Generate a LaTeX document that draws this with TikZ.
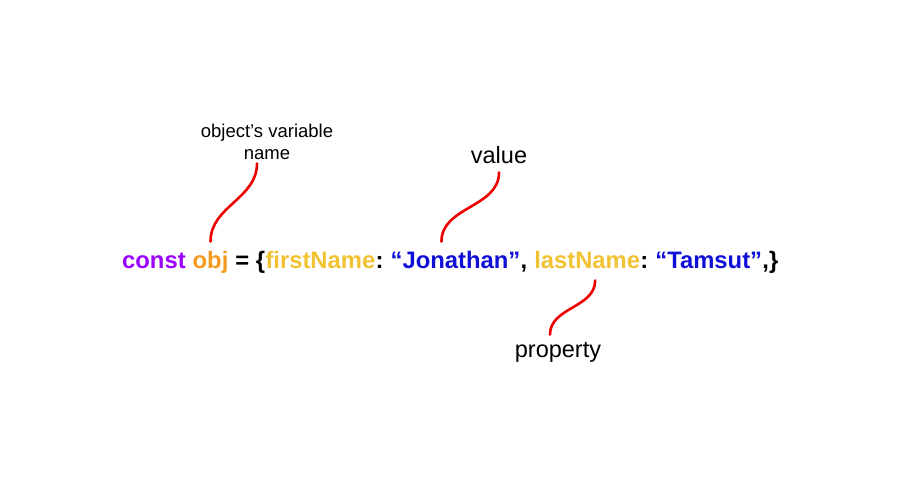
\documentclass[tikz,border=0pt]{standalone}
\usepackage{fontspec}
\setmainfont{Liberation Sans}
\usepackage{xcolor}
\usetikzlibrary{positioning}
\definecolor{kwpurple}{HTML}{9900FF}
\definecolor{varorange}{HTML}{F39A1E}
\definecolor{propyellow}{HTML}{F1C232}
\definecolor{strblue}{HTML}{0F0FD8}
\definecolor{curlred}{HTML}{EE0000}
\tikzset{every picture/.style={ampersand replacement=\&}}

\begin{document}
\begin{tikzpicture}[x=1pt,y=-1pt,
  tok/.style={inner sep=0pt,font=\bfseries\fontsize{23.8}{28}\selectfont},
  lbl/.style={inner sep=0pt,font=\fontsize{23.5}{28}\selectfont},
  curl/.style={curlred,line width=2.6pt,line cap=round}]
\useasboundingbox (0,0) rectangle (901,485);
% the line of code
\node[tok,kwpurple,anchor=base west] (const) at (122,268) {const};
\node[tok,varorange,base right=6.6pt of const] (obj) {obj};
\node[tok,base right=6.6pt of obj] (eq) {=\ \{};
\node[tok,propyellow,base right=0pt of eq] (first) {firstName};
\node[tok,base right=0pt of first] (colA) {:};
\node[tok,strblue,base right=6.6pt of colA] (jon) {“Jonathan”};
\node[tok,base right=0pt of jon] (comA) {,};
\node[tok,propyellow,base right=6.6pt of comA] (last) {lastName};
\node[tok,base right=0pt of last] (colB) {:};
\node[tok,strblue,base right=6.6pt of colB] (tam) {“Tamsut”};
\node[tok,base right=0pt of tam] (close) {,\}};
% labels
\node[inner sep=0pt,align=center,font=\fontsize{18.5}{22}\selectfont,anchor=base] (varlbl) at (267,159) {object’s variable\\name};
\node[lbl,anchor=base] (vallbl) at (499,163) {value};
\node[lbl,anchor=base] (proplbl) at (558,357) {property};
% red curls
\draw[curl] ([xshift=-10pt,yshift=-4pt]varlbl.south) to[out=-90,in=90] ([yshift=9pt]obj.north);
\draw[curl] ([yshift=-9pt]vallbl.south) to[out=-90,in=90] ([xshift=51pt,yshift=9pt]jon.north west);
\draw[curl] ([xshift=8pt,yshift=-12pt]last.south) to[out=-90,in=90] ([xshift=-8pt,yshift=7pt]proplbl.north);
\end{tikzpicture}
\end{document}
